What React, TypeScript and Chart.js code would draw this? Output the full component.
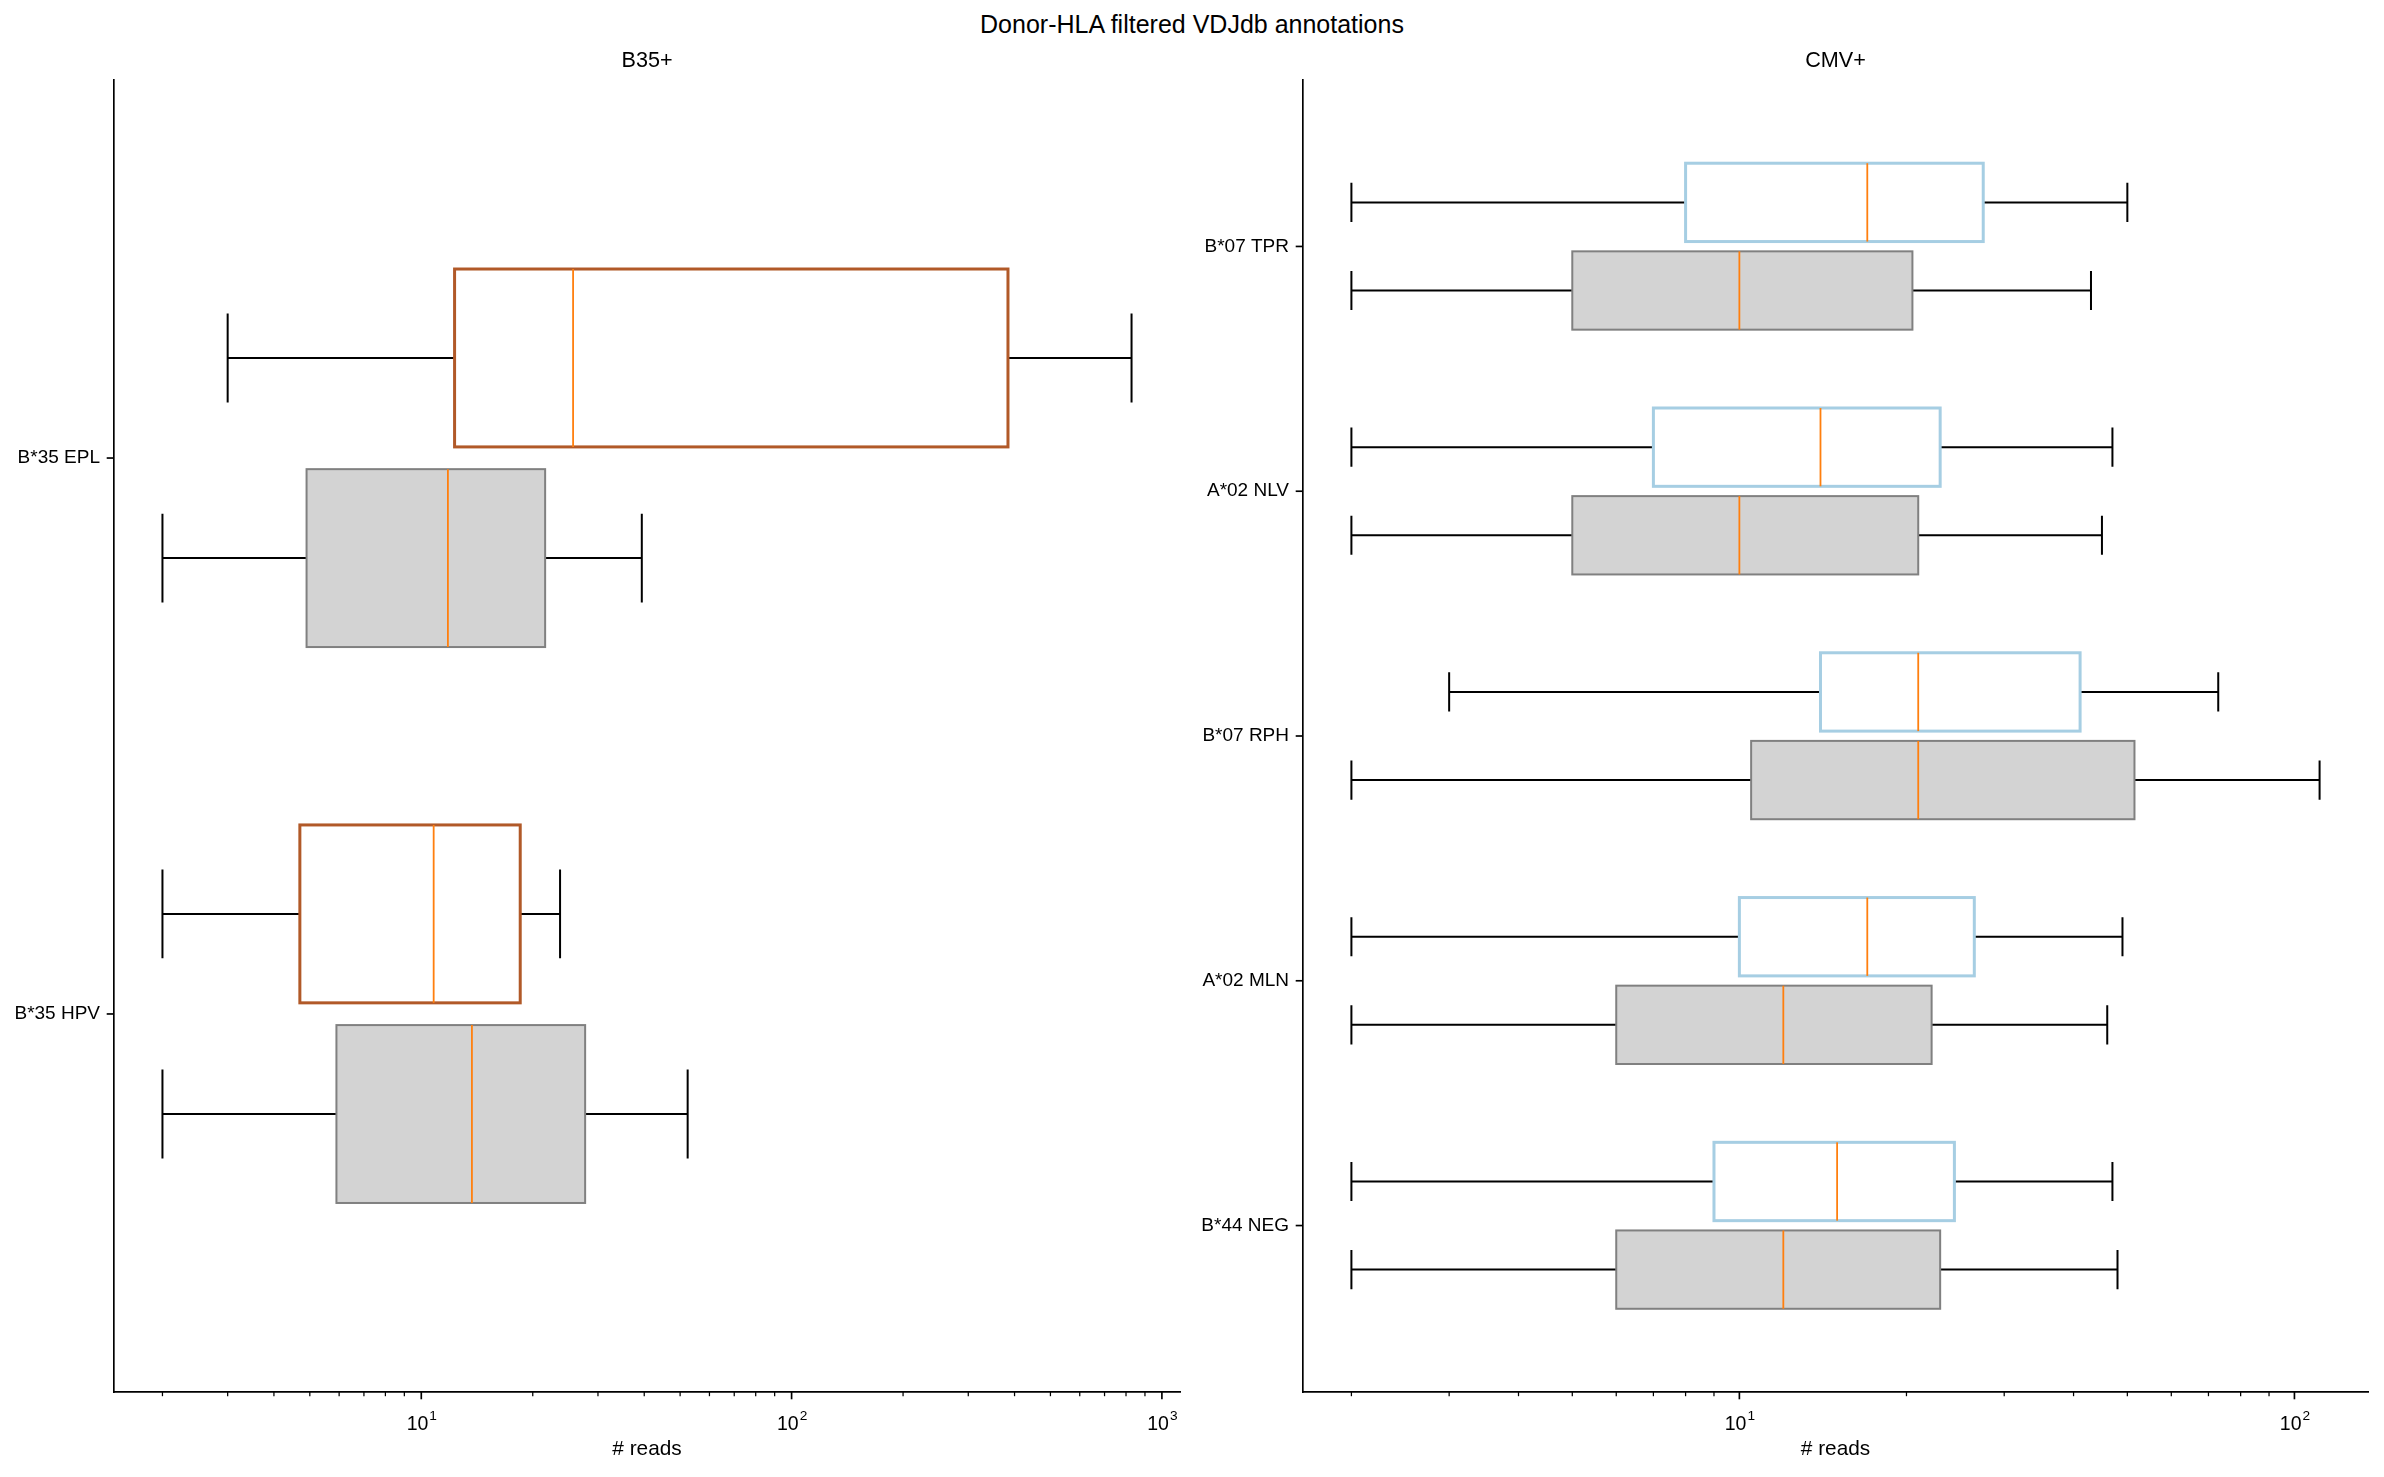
import React, { useEffect, useRef } from 'react';
import { Chart, registerables } from 'chart.js';

Chart.register(...registerables);

const FONT = '"Liberation Sans", Arial, Helvetica, sans-serif';
const FIG_WIDTH = 2384;
const FIG_HEIGHT = 1477;

const SUPTITLE = 'Donor-HLA filtered VDJdb annotations';
const X_LABEL = '# reads';

// Each row: [lower whisker, Q1, median, Q3, upper whisker]
const B35_TITLE = 'B35+';
const B35_EPITOPES = ['B*35 EPL', 'B*35 HPV'];
const B35_ANNOTATED = [
  [3, 12.3, 25.7, 384, 828],
  [2, 4.7, 10.8, 18.5, 23.7],
];
const B35_BACKGROUND = [
  [2, 4.9, 11.8, 21.6, 39.4],
  [2, 5.9, 13.7, 27.7, 52.4],
];

const CMV_TITLE = 'CMV+';
const CMV_EPITOPES = ['B*07 TPR', 'A*02 NLV', 'B*07 RPH', 'A*02 MLN', 'B*44 NEG'];
const CMV_ANNOTATED = [
  [2, 8.0, 17.0, 27.5, 50],
  [2, 7.0, 14.0, 23.0, 47],
  [3, 14.0, 21.0, 41.1, 72.9],
  [2, 10.0, 17.0, 26.5, 49],
  [2, 9.0, 15.0, 24.4, 47],
];
const CMV_BACKGROUND = [
  [2, 5.0, 10.0, 20.5, 43],
  [2, 5.0, 10.0, 21.0, 45],
  [2, 10.5, 21.0, 51.5, 111],
  [2, 6.0, 12.0, 22.2, 46],
  [2, 6.0, 12.0, 23.0, 48],
];

// box layout in category units
const ANNOTATED_OFFSET = -0.18;
const BACKGROUND_OFFSET = 0.18;
const BOX_WIDTH = 0.32;
const CAP_WIDTH = 0.16;

const MEDIAN_COLOR = '#ff7f0e';
const BG_FILL = '#d3d3d3';
const BG_EDGE = '#808080';

const TICK_FONT_SIZE = 19.5;
const EXP_FONT_SIZE = 13.7;

type Stats = number[][];

interface PanelSpec {
  title: string;
  epitopes: string[];
  annotated: Stats;
  background: Stats;
  color: string;
  left: number;
  width: number;
  yAxisWidth: number;
  rightPad: number;
}

const PANELS: PanelSpec[] = [
  {
    title: B35_TITLE,
    epitopes: B35_EPITOPES,
    annotated: B35_ANNOTATED,
    background: B35_BACKGROUND,
    color: '#b15928',
    left: 0,
    width: 1200,
    yAxisWidth: 114,
    rightPad: 20,
  },
  {
    title: CMV_TITLE,
    epitopes: CMV_EPITOPES,
    annotated: CMV_ANNOTATED,
    background: CMV_BACKGROUND,
    color: '#a6cee3',
    left: 1200,
    width: 1184,
    yAxisWidth: 103,
    rightPad: 16,
  },
];

function logLimits(groups: Stats[]) {
  const vals = groups.flat(2);
  const lo = Math.log10(Math.min(...vals));
  const hi = Math.log10(Math.max(...vals));
  const m = (hi - lo) * 0.05;
  return { min: Math.pow(10, lo - m), max: Math.pow(10, hi + m) };
}

function logTicks(min: number, max: number) {
  const out: number[] = [];
  for (let e = Math.floor(Math.log10(min)); e <= Math.ceil(Math.log10(max)); e++) {
    for (let m = 1; m <= 9; m++) {
      const v = m * Math.pow(10, e);
      if (v >= min && v <= max) out.push(v);
    }
  }
  return out;
}

function isDecade(v: number) {
  const l = Math.log10(v);
  return Math.abs(l - Math.round(l)) < 1e-9;
}

function makeBoxPlugin(spec: PanelSpec) {
  return {
    id: 'boxplots',
    afterDatasetsDraw(chart: any) {
      const { ctx } = chart;
      const xs = chart.scales.x;
      const ys = chart.scales.y;
      const groups = [
        { stats: spec.annotated, offset: ANNOTATED_OFFSET, fill: '#ffffff', edge: spec.color, edgeWidth: 3 },
        { stats: spec.background, offset: BACKGROUND_OFFSET, fill: BG_FILL, edge: BG_EDGE, edgeWidth: 2 },
      ];
      ctx.save();
      groups.forEach((g) => {
        g.stats.forEach((s, i) => {
          const pos = i + g.offset;
          const yc = ys.getPixelForValue(pos);
          const y0 = ys.getPixelForValue(pos - BOX_WIDTH / 2);
          const y1 = ys.getPixelForValue(pos + BOX_WIDTH / 2);
          const c0 = ys.getPixelForValue(pos - CAP_WIDTH / 2);
          const c1 = ys.getPixelForValue(pos + CAP_WIDTH / 2);
          const [lo, q1, med, q3, hi] = s.map((v) => xs.getPixelForValue(v));

          // whiskers and caps
          ctx.strokeStyle = '#000000';
          ctx.lineWidth = 2;
          ctx.beginPath();
          ctx.moveTo(q1, yc); ctx.lineTo(lo, yc);
          ctx.moveTo(q3, yc); ctx.lineTo(hi, yc);
          ctx.moveTo(lo, c0); ctx.lineTo(lo, c1);
          ctx.moveTo(hi, c0); ctx.lineTo(hi, c1);
          ctx.stroke();

          // box
          const top = Math.min(y0, y1);
          const h = Math.abs(y1 - y0);
          ctx.fillStyle = g.fill;
          ctx.fillRect(q1, top, q3 - q1, h);
          ctx.strokeStyle = g.edge;
          ctx.lineWidth = g.edgeWidth;
          ctx.strokeRect(q1, top, q3 - q1, h);

          // median
          ctx.strokeStyle = MEDIAN_COLOR;
          ctx.lineWidth = 1.8;
          ctx.beginPath();
          ctx.moveTo(med, y0);
          ctx.lineTo(med, y1);
          ctx.stroke();
        });
      });
      ctx.restore();
    },
    afterDraw(chart: any) {
      const { ctx, chartArea } = chart;
      const xs = chart.scales.x;
      const ys = chart.scales.y;
      ctx.save();
      ctx.strokeStyle = '#000000';
      ctx.fillStyle = '#000000';
      // x tick marks: long for decades, short for minor ticks; decades get a 10^n label
      xs.ticks.forEach((t: any) => {
        const major = isDecade(t.value);
        const px = xs.getPixelForValue(t.value);
        ctx.lineWidth = major ? 1.67 : 1.25;
        ctx.beginPath();
        ctx.moveTo(px, chartArea.bottom);
        ctx.lineTo(px, chartArea.bottom + (major ? 7.3 : 4.2));
        ctx.stroke();
        if (major) {
          const base = '10';
          const exp = String(Math.round(Math.log10(t.value)));
          ctx.font = `${TICK_FONT_SIZE}px ${FONT}`;
          const wb = ctx.measureText(base).width;
          ctx.font = `${EXP_FONT_SIZE}px ${FONT}`;
          const we = ctx.measureText(exp).width;
          const x0 = px - (wb + we) / 2;
          const baseline = chartArea.bottom + 38;
          ctx.textAlign = 'left';
          ctx.textBaseline = 'alphabetic';
          ctx.font = `${TICK_FONT_SIZE}px ${FONT}`;
          ctx.fillText(base, x0, baseline);
          ctx.font = `${EXP_FONT_SIZE}px ${FONT}`;
          ctx.fillText(exp, x0 + wb + 1, baseline - 10);
        }
      });
      // y tick marks at each epitope
      ctx.lineWidth = 1.67;
      ys.ticks.forEach((t: any) => {
        const py = ys.getPixelForValue(t.value);
        ctx.beginPath();
        ctx.moveTo(chartArea.left, py);
        ctx.lineTo(chartArea.left - 7.3, py);
        ctx.stroke();
      });
      // panel title centred over the plotting area
      ctx.font = `21.6px ${FONT}`;
      ctx.textAlign = 'center';
      ctx.textBaseline = 'middle';
      ctx.fillText(spec.title, (chartArea.left + chartArea.right) / 2, chartArea.top - 19);
      ctx.restore();
    },
  };
}

function BoxPanel({ spec }: { spec: PanelSpec }) {
  const ref = useRef<HTMLCanvasElement>(null);

  useEffect(() => {
    const canvas = ref.current;
    if (!canvas) return;
    const { min, max } = logLimits([spec.annotated, spec.background]);
    const ticks = logTicks(min, max);
    const n = spec.epitopes.length;
    const yPad = Math.abs(ANNOTATED_OFFSET) + 0.5;

    const chart = new Chart(canvas, {
      type: 'scatter',
      data: {
        datasets: [
          {
            label: 'annotated',
            data: spec.annotated.map((s, i) => ({ x: s[2], y: i + ANNOTATED_OFFSET })),
            pointRadius: 0,
            showLine: false,
          },
          {
            label: 'background',
            data: spec.background.map((s, i) => ({ x: s[2], y: i + BACKGROUND_OFFSET })),
            pointRadius: 0,
            showLine: false,
          },
        ],
      },
      options: {
        responsive: false,
        animation: false,
        devicePixelRatio: 1,
        layout: { padding: { top: 80, right: spec.rightPad, bottom: 0, left: 0 } },
        plugins: {
          legend: { display: false },
          tooltip: { enabled: false },
          title: { display: false },
        },
        scales: {
          x: {
            type: 'logarithmic',
            min,
            max,
            grid: { display: false, drawTicks: false },
            border: { display: true, color: '#000000', width: 1.67 },
            ticks: {
              autoSkip: false,
              maxRotation: 0,
              padding: 19,
              color: '#000000',
              font: { family: FONT, size: TICK_FONT_SIZE },
              // decade labels with superscript exponents are drawn by the plugin
              callback: () => '',
            },
            afterBuildTicks: (s: any) => {
              s.ticks = ticks.map((value) => ({ value }));
            },
            afterFit: (s: any) => {
              s.height = 85;
            },
            title: {
              display: true,
              text: X_LABEL,
              color: '#000000',
              font: { family: FONT, size: 20.8 },
              padding: { top: 0, bottom: 15 },
            },
          },
          y: {
            type: 'linear',
            reverse: true,
            min: -yPad,
            max: n - 1 + yPad,
            grid: { display: false, drawTicks: false },
            border: { display: true, color: '#000000', width: 1.67 },
            ticks: {
              autoSkip: false,
              padding: 14,
              color: '#000000',
              font: { family: FONT, size: 19 },
              callback: (v: any) => spec.epitopes[Number(v)] ?? '',
            },
            afterBuildTicks: (s: any) => {
              s.ticks = spec.epitopes.map((_, i) => ({ value: i }));
            },
            afterFit: (s: any) => {
              s.width = spec.yAxisWidth;
            },
          },
        },
      },
      plugins: [makeBoxPlugin(spec)],
    } as any);

    return () => chart.destroy();
  }, [spec]);

  return (
    <canvas
      ref={ref}
      width={spec.width}
      height={FIG_HEIGHT}
      style={{ position: 'absolute', left: spec.left, top: 0, width: spec.width, height: FIG_HEIGHT }}
    />
  );
}

export default function App() {
  return (
    <div
      style={{
        position: 'absolute',
        left: 0,
        top: 0,
        width: FIG_WIDTH,
        height: FIG_HEIGHT,
        background: '#ffffff',
        overflow: 'hidden',
      }}
    >
      <div
        style={{
          position: 'absolute',
          left: 0,
          top: 0,
          width: FIG_WIDTH,
          textAlign: 'center',
          font: `25px ${FONT}`,
          lineHeight: '48px',
          color: '#000000',
        }}
      >
        {SUPTITLE}
      </div>
      {PANELS.map((p) => (
        <BoxPanel key={p.title} spec={p} />
      ))}
    </div>
  );
}
